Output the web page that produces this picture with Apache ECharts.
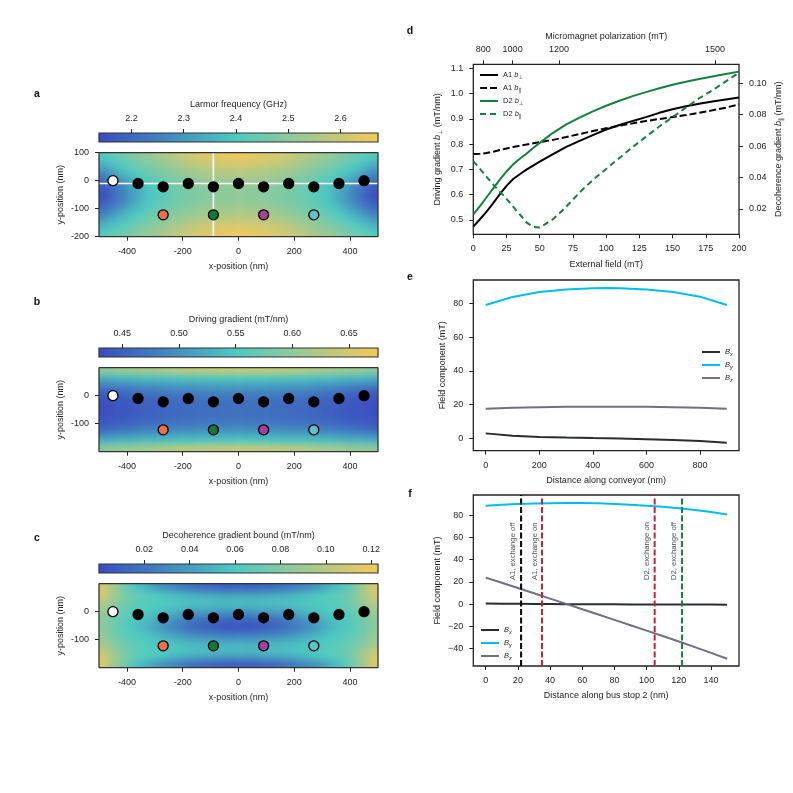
<!DOCTYPE html>
<html>
<head>
<meta charset="utf-8">
<style>
  html, body { margin: 0; padding: 0; background: #fff; }
  #page { position: relative; width: 793px; height: 793px; overflow: hidden; }
  #main, #heat { position: absolute; left: 0; top: 0; width: 793px; height: 793px; }
  /* the coarse cells are softened and kept inside the three plot rectangles */
  #heatClip { position: absolute; left: 0; top: 0; width: 793px; height: 793px;
    clip-path: path('M99 152.7h279v84h-279z M99 367.7h279v84h-279z M99 583.7h279v84h-279z'); }
  #heat { filter: blur(3px); }
</style>
<script src="https://cdn.jsdelivr.net/npm/echarts@6/dist/echarts.min.js"></script>
</head>
<body>
<div id="page">
  <div id="heatClip"><div id="heat"></div></div>
  <div id="main"></div>
</div>
<script>
// heat map cell centres (nm)
const heatX = [-483,-450,-417,-383,-350,-317,-283,-250,-217,-183,-150,-117,-83,-50,-17,17,50,83,117,150,183,217,250,283,317,350,383,417,450,483];
const heatY = [87.5,62.5,37.5,12.5,-12.5,-37.5,-62.5,-87.5,-112.5,-137.5,-162.5,-187.5];

const larmorRows = [
  [2.41,2.43,2.45,2.48,2.50,2.52,2.54,2.56,2.58,2.60,2.62,2.63,2.64,2.65,2.66,2.66,2.65,2.64,2.63,2.62,2.60,2.58,2.56,2.54,2.52,2.50,2.48,2.45,2.43,2.41],
  [2.36,2.39,2.42,2.45,2.47,2.49,2.51,2.53,2.55,2.57,2.59,2.60,2.61,2.62,2.62,2.62,2.62,2.61,2.60,2.59,2.57,2.55,2.53,2.51,2.49,2.47,2.45,2.42,2.39,2.36],
  [2.30,2.34,2.38,2.41,2.44,2.46,2.48,2.50,2.52,2.54,2.55,2.56,2.57,2.58,2.58,2.58,2.58,2.57,2.56,2.55,2.54,2.52,2.50,2.48,2.46,2.44,2.41,2.38,2.34,2.30],
  [2.24,2.28,2.33,2.37,2.40,2.43,2.45,2.47,2.49,2.50,2.52,2.53,2.54,2.54,2.55,2.55,2.54,2.54,2.53,2.52,2.50,2.49,2.47,2.45,2.43,2.40,2.37,2.33,2.28,2.24],
  [2.19,2.23,2.28,2.33,2.37,2.40,2.43,2.45,2.47,2.48,2.50,2.51,2.52,2.52,2.52,2.52,2.52,2.52,2.51,2.50,2.48,2.47,2.45,2.43,2.40,2.37,2.33,2.28,2.23,2.19],
  [2.15,2.20,2.25,2.31,2.35,2.39,2.42,2.44,2.46,2.47,2.48,2.49,2.50,2.50,2.51,2.51,2.50,2.50,2.49,2.48,2.47,2.46,2.44,2.42,2.39,2.35,2.31,2.25,2.20,2.15],
  [2.15,2.20,2.25,2.31,2.35,2.39,2.42,2.44,2.46,2.47,2.48,2.49,2.50,2.50,2.51,2.51,2.50,2.50,2.49,2.48,2.47,2.46,2.44,2.42,2.39,2.35,2.31,2.25,2.20,2.15],
  [2.19,2.23,2.28,2.33,2.37,2.40,2.43,2.45,2.47,2.48,2.50,2.51,2.52,2.52,2.52,2.52,2.52,2.52,2.51,2.50,2.48,2.47,2.45,2.43,2.40,2.37,2.33,2.28,2.23,2.19],
  [2.24,2.28,2.33,2.37,2.40,2.43,2.45,2.47,2.49,2.50,2.52,2.53,2.54,2.54,2.55,2.55,2.54,2.54,2.53,2.52,2.50,2.49,2.47,2.45,2.43,2.40,2.37,2.33,2.28,2.24],
  [2.30,2.34,2.38,2.41,2.44,2.46,2.48,2.50,2.52,2.54,2.55,2.56,2.57,2.58,2.58,2.58,2.58,2.57,2.56,2.55,2.54,2.52,2.50,2.48,2.46,2.44,2.41,2.38,2.34,2.30],
  [2.36,2.39,2.42,2.45,2.47,2.49,2.51,2.53,2.55,2.57,2.59,2.60,2.61,2.62,2.62,2.62,2.62,2.61,2.60,2.59,2.57,2.55,2.53,2.51,2.49,2.47,2.45,2.42,2.39,2.36],
  [2.41,2.43,2.45,2.48,2.50,2.52,2.54,2.56,2.58,2.60,2.62,2.63,2.64,2.65,2.66,2.66,2.65,2.64,2.63,2.62,2.60,2.58,2.56,2.54,2.52,2.50,2.48,2.45,2.43,2.41]
];
const drivingRows = [
  [.600,.603,.607,.610,.614,.618,.622,.626,.629,.632,.634,.636,.638,.640,.640,.640,.640,.638,.636,.634,.632,.629,.626,.622,.618,.614,.610,.607,.603,.600],
  [.530,.532,.535,.538,.540,.542,.544,.546,.547,.548,.549,.550,.551,.552,.552,.552,.552,.551,.550,.549,.548,.547,.546,.544,.542,.540,.538,.535,.532,.530],
  [.484,.488,.492,.496,.499,.502,.505,.507,.509,.511,.512,.513,.514,.515,.515,.515,.515,.514,.513,.512,.511,.509,.507,.505,.502,.499,.496,.492,.488,.484],
  [.449,.454,.459,.464,.468,.472,.475,.478,.480,.482,.484,.485,.486,.487,.487,.487,.487,.486,.485,.484,.482,.480,.478,.475,.472,.468,.464,.459,.454,.449],
  [.436,.440,.444,.448,.452,.455,.458,.461,.463,.465,.467,.468,.469,.470,.470,.470,.470,.469,.468,.467,.465,.463,.461,.458,.455,.452,.448,.444,.440,.436],
  [.432,.435,.439,.443,.447,.450,.453,.456,.458,.460,.462,.463,.464,.465,.465,.465,.465,.464,.463,.462,.460,.458,.456,.453,.450,.447,.443,.439,.435,.432],
  [.432,.435,.439,.443,.447,.450,.453,.456,.458,.460,.462,.463,.464,.465,.465,.465,.465,.464,.463,.462,.460,.458,.456,.453,.450,.447,.443,.439,.435,.432],
  [.436,.440,.444,.448,.452,.455,.458,.461,.463,.465,.467,.468,.469,.470,.470,.470,.470,.469,.468,.467,.465,.463,.461,.458,.455,.452,.448,.444,.440,.436],
  [.449,.454,.459,.464,.468,.472,.475,.478,.480,.482,.484,.485,.486,.487,.487,.487,.487,.486,.485,.484,.482,.480,.478,.475,.472,.468,.464,.459,.454,.449],
  [.484,.488,.492,.496,.499,.502,.505,.507,.509,.511,.512,.513,.514,.515,.515,.515,.515,.514,.513,.512,.511,.509,.507,.505,.502,.499,.496,.492,.488,.484],
  [.530,.532,.535,.538,.540,.542,.544,.546,.547,.548,.549,.550,.551,.552,.552,.552,.552,.551,.550,.549,.548,.547,.546,.544,.542,.540,.538,.535,.532,.530],
  [.600,.603,.607,.610,.614,.618,.622,.626,.629,.632,.634,.636,.638,.640,.640,.640,.640,.638,.636,.634,.632,.629,.626,.622,.618,.614,.610,.607,.603,.600]
];
const decoherenceRows = [
  [.110,.092,.076,.064,.053,.044,.036,.029,.024,.019,.015,.012,.010,.008,.007,.007,.008,.010,.012,.015,.019,.024,.029,.036,.044,.053,.064,.076,.092,.110],
  [.112,.094,.081,.071,.065,.062,.058,.054,.050,.047,.044,.042,.041,.039,.039,.039,.039,.041,.042,.044,.047,.050,.054,.058,.062,.065,.071,.081,.094,.112],
  [.100,.089,.079,.071,.066,.064,.062,.060,.059,.058,.057,.057,.055,.055,.055,.055,.055,.055,.057,.057,.058,.059,.060,.062,.064,.066,.071,.079,.089,.100],
  [.091,.081,.074,.068,.064,.062,.059,.057,.054,.052,.050,.049,.048,.047,.047,.047,.047,.048,.049,.050,.052,.054,.057,.059,.062,.064,.068,.074,.081,.091],
  [.086,.076,.069,.064,.060,.057,.052,.047,.042,.037,.033,.031,.030,.028,.027,.027,.028,.030,.031,.033,.037,.042,.047,.052,.057,.060,.064,.069,.076,.086],
  [.083,.074,.066,.060,.055,.049,.041,.033,.026,.020,.015,.011,.009,.007,.006,.006,.007,.009,.011,.015,.020,.026,.033,.041,.049,.055,.060,.066,.074,.083],
  [.083,.074,.066,.060,.055,.049,.041,.033,.026,.020,.015,.011,.009,.007,.006,.006,.007,.009,.011,.015,.020,.026,.033,.041,.049,.055,.060,.066,.074,.083],
  [.086,.076,.069,.064,.060,.057,.052,.047,.042,.037,.033,.031,.030,.028,.027,.027,.028,.030,.031,.033,.037,.042,.047,.052,.057,.060,.064,.069,.076,.086],
  [.091,.081,.074,.068,.064,.062,.059,.057,.054,.052,.050,.049,.048,.047,.047,.047,.047,.048,.049,.050,.052,.054,.057,.059,.062,.064,.068,.074,.081,.091],
  [.100,.089,.079,.071,.066,.064,.062,.060,.059,.058,.057,.057,.055,.055,.055,.055,.055,.055,.057,.057,.058,.059,.060,.062,.064,.066,.071,.079,.089,.100],
  [.112,.094,.081,.071,.065,.062,.058,.054,.050,.047,.044,.042,.041,.039,.039,.039,.039,.041,.042,.044,.047,.050,.054,.058,.062,.065,.071,.081,.094,.112],
  [.110,.092,.076,.064,.053,.044,.036,.029,.024,.019,.015,.012,.010,.008,.007,.007,.008,.010,.012,.015,.019,.024,.029,.036,.044,.053,.064,.076,.092,.110]
];

// quantum dots
const conveyorX = [-450,-360,-270,-180,-90,0,90,180,270,360,450];
const conveyorY = [0,-10,-22,-10,-22,-10,-22,-10,-22,-10,0];
const conveyorFill = ['#ffffff','#000','#000','#000','#000','#000','#000','#000','#000','#000','#000'];
const sensorX = [-270,-90,90,270];
const sensorY = [-122,-122,-122,-122];
const sensorFill = ['#ee7048','#14783a','#a8409a','#62c0c8'];

// panel d
const fieldMt = [0,5,10,15,20,25,30,35,40,45,50,60,70,80,90,100,110,120,130,140,150,160,170,180,190,200];
const a1Perp = [.474,.503,.533,.567,.602,.635,.662,.681,.699,.715,.731,.761,.789,.813,.836,.858,.876,.892,.907,.924,.938,.950,.960,.969,.977,.985];
const a1Par = [.055,.0552,.0556,.0565,.0575,.0585,.0595,.0603,.061,.0618,.0625,.064,.0658,.0677,.0696,.0714,.073,.0745,.076,.0773,.0785,.0798,.0812,.0828,.0845,.0866];
const d2Perp = [.522,.555,.59,.625,.66,.692,.72,.742,.762,.785,.805,.845,.878,.905,.93,.952,.972,.99,1.006,1.021,1.035,1.047,1.058,1.068,1.078,1.087];
const d2Par = [.0505,.0455,.0405,.0355,.031,.0265,.0215,.0165,.0115,.0086,.0082,.0135,.0215,.0305,.0385,.0455,.0525,.0595,.066,.0725,.0785,.0845,.0905,.0955,.1012,.1068];
const polarizationTicks = [800,1000,1200,1500];
const polarizationAt = [7.5,29.6,64.5,182]; // non linear top axis, in mT of the bottom axis

// panel e
const conveyorDist = [0,100,200,300,400,450,500,600,700,800,900];
const conveyorBx = [2.9,1.5,.8,.4,.1,0,-.2,-.6,-1,-1.7,-2.7];
const conveyorBy = [79.2,84,87,88.5,89.2,89.3,89.2,88.5,87,84.2,79.2];
const conveyorBz = [17.6,18.2,18.5,18.7,18.8,18.8,18.8,18.7,18.5,18.2,17.6];

// panel f
const busDist = [0,10,20,30,40,50,60,70,80,90,100,110,120,130,140,150];
const busBx = [.5,.4,.3,.2,.1,0,0,-.1,-.1,-.2,-.2,-.3,-.3,-.4,-.4,-.5];
const busBy = [88.3,89.2,89.9,90.4,90.7,90.8,90.8,90.5,90,89.3,88.4,87.4,86.1,84.6,82.8,80.4];
const busBz = [23.8,19.2,14.5,9.8,5,.3,-4.5,-9.3,-14.1,-18.9,-23.7,-28.6,-33.5,-38.6,-43.7,-49];
const exchangeX = [22,35,105,122];
const exchangeNames = ['A1, exchange off','A1, exchange on','D2, exchange on','D2, exchange off'];
const exchangeColors = ['#000','#c9203a','#c9203a','#15803d'];
const exchangeLabelX = [17,30.3,100,117];

const FONT = '"Liberation Sans", "DejaVu Sans", sans-serif';
const INK = '#222';
const GREEN = '#15803d';
const cmap = ['#3a4cc0','#4289bf','#4ecbc0','#a3c98d','#f6c85a'];
const BX = '#2a2c33', BY = '#00bdf2', BZ = '#70717f';

const grids = [], xAxes = [], yAxes = [], series = [], legends = [];
const heatGrids = [], heatXAxes = [], heatYAxes = [], heatSeries = [], heatMaps = [];

const rich = {
  i: { fontFamily: FONT, fontSize: 9, fontStyle: 'italic', color: INK },
  s: { fontFamily: FONT, fontSize: 6, color: INK, padding: [5, 0, 0, 0] },
  t: { fontFamily: FONT, fontSize: 9, color: INK },
  li: { fontFamily: FONT, fontSize: 7.5, fontStyle: 'italic', color: INK },
  ls: { fontFamily: FONT, fontSize: 5.5, color: INK, fontStyle: 'italic', padding: [4, 0, 0, 0] },
  lt: { fontFamily: FONT, fontSize: 7.5, color: INK }
};

function valueAxis(o) {
  return {
    type: 'value', gridIndex: o.grid, min: o.min, max: o.max, position: o.position,
    splitLine: { show: false },
    name: o.name, nameLocation: 'middle', nameGap: o.gap, nameRotate: o.rotate,
    nameTextStyle: { fontFamily: FONT, fontSize: 9, color: INK, rich: rich },
    axisLine: { show: false, onZero: false },
    axisTick: { show: true, length: 4, inside: false, lineStyle: { color: INK, width: 1 }, customValues: o.ticks },
    axisLabel: {
      show: true, margin: 10, fontFamily: FONT, fontSize: 9, color: INK,
      customValues: o.ticks, formatter: o.fmt
    }
  };
}

function addGrid(left, top, w, h, extra) {
  grids.push(Object.assign({ left: left, top: top, width: w, height: h, containLabel: false }, extra));
  return grids.length - 1;
}

const padEdges = r => [r[0], ...r, r[r.length - 1]];

function mapPanel(p) {
  // heat map goes in its own chart under the main one, one repeated cell past each edge for the blur
  const rows = padEdges(p.rows.map(padEdges));
  const k = heatGrids.length;
  heatGrids.push({ left: 99 - 9.3, top: p.top - 7, width: 279 + 18.6, height: 84 + 14 });
  heatXAxes.push({ type: 'category', gridIndex: k, data: padEdges(heatX), show: false });
  heatYAxes.push({ type: 'category', gridIndex: k, data: padEdges(heatY), show: false, inverse: true });
  const cells = [];
  rows.forEach((row, j) => row.forEach((v, i) => cells.push([i, j, v])));
  heatMaps.push({
    show: false, type: 'continuous', min: p.cmin, max: p.cmax, dimension: 2,
    seriesIndex: k, inRange: { color: cmap }
  });
  heatSeries.push({
    type: 'heatmap', xAxisIndex: k, yAxisIndex: k, data: cells, silent: true,
    itemStyle: { borderWidth: 0 }, progressive: 0
  });

  const g = addGrid(99, p.top, 279, 84);
  xAxes.push(valueAxis({
    grid: g, min: -500, max: 500, position: 'bottom', ticks: [-400,-200,0,200,400],
    name: 'x-position (nm)', gap: 25, fmt: v => String(v)
  }));
  yAxes.push(valueAxis({
    grid: g, min: -200, max: 100, position: 'left', ticks: p.yTicks,
    name: 'y-position (nm)', gap: 34, fmt: v => String(v)
  }));
  const on = { xAxisIndex: xAxes.length - 1, yAxisIndex: yAxes.length - 1 };
  (p.guides || []).forEach(seg => series.push(Object.assign({
    type: 'line', data: seg, symbol: 'none', silent: true,
    lineStyle: { color: '#fff', width: 1.6 }, z: 3
  }, on)));
  series.push(Object.assign({
    type: 'line', data: [[-500,-200],[500,-200],[500,100],[-500,100],[-500,-200]], symbol: 'none',
    silent: true, clip: false, lineStyle: { color: '#333', width: 1.3 }, z: 4
  }, on));
  const dots = conveyorX.map((x, i) => ({ value: [x, conveyorY[i]], itemStyle: { color: conveyorFill[i] } }))
    .concat(sensorX.map((x, i) => ({ value: [x, sensorY[i]], itemStyle: { color: sensorFill[i] } })));
  series.push(Object.assign({
    type: 'scatter', data: dots, symbolSize: 10, silent: true, z: 5,
    itemStyle: { borderColor: '#000', borderWidth: 1.3, opacity: 1 }
  }, on));

  // colour bar
  const cb = addGrid(99, p.barTop, 279, 9, {
    show: true, borderColor: '#333', borderWidth: 1.2,
    backgroundColor: new echarts.graphic.LinearGradient(0, 0, 1, 0,
      cmap.map((c, i) => ({ offset: i / (cmap.length - 1), color: c })))
  });
  xAxes.push(valueAxis({
    grid: cb, min: p.cmin, max: p.cmax, position: 'top', ticks: p.cticks,
    name: p.title, gap: 24, fmt: v => v.toFixed(p.digits)
  }));
  yAxes.push({ type: 'value', gridIndex: cb, show: false, min: 0, max: 1 });
}

mapPanel({
  top: 152.7, barTop: 133, rows: larmorRows, cmin: 2.138, cmax: 2.672, cticks: [2.2,2.3,2.4,2.5,2.6], digits: 1,
  title: 'Larmor frequency (GHz)', yTicks: [-200,-100,0,100],
  guides: [[[-500,-10],[500,-10]], [[-90,-200],[-90,100]]]
});
mapPanel({
  top: 367.7, barTop: 348, rows: drivingRows, cmin: .4294, cmax: .6756, cticks: [.45,.5,.55,.6,.65], digits: 2,
  title: 'Driving gradient (mT/nm)', yTicks: [-100,0]
});
mapPanel({
  top: 583.7, barTop: 564, rows: decoherenceRows, cmin: 0, cmax: .123, cticks: [.02,.04,.06,.08,.1,.12], digits: 2,
  title: 'Decoherence gradient bound (mT/nm)', yTicks: [-100,0]
});

const frame = { show: true, borderColor: '#222', borderWidth: 1.3, backgroundColor: 'transparent' };

// panel d
const gd = addGrid(473.3, 64.3, 265.7, 170, frame);
xAxes.push(valueAxis({ grid: gd, min: 0, max: 200, position: 'bottom', ticks: [0,25,50,75,100,125,150,175,200], name: 'External field (mT)', gap: 26, fmt: v => String(v) }));
const dBottom = xAxes.length - 1;
xAxes.push(valueAxis({
  grid: gd, min: 0, max: 200, position: 'top', ticks: polarizationAt, name: 'Micromagnet polarization (mT)', gap: 23,
  fmt: v => String(polarizationTicks[polarizationAt.indexOf(v)])
}));
yAxes.push(valueAxis({ grid: gd, min: .4434, max: 1.116, position: 'left', ticks: [.5,.6,.7,.8,.9,1,1.1], name: 'Driving gradient {i|b}{s|⊥} (mT/nm)', gap: 30, fmt: v => v.toFixed(1) }));
const dLeft = yAxes.length - 1;
yAxes.push(valueAxis({ grid: gd, min: .0039, max: .1121, position: 'right', ticks: [.02,.04,.06,.08,.1], name: 'Decoherence gradient {i|b}{s|∥} (mT/nm)', gap: 34, rotate: 90, fmt: v => v.toFixed(2) }));
const dRight = dLeft + 1;

function curve(name, xs, ys, xi, yi, color, dash, width) {
  series.push({
    type: 'line', name: name, xAxisIndex: xi, yAxisIndex: yi, data: xs.map((x, i) => [x, ys[i]]),
    symbol: 'none', silent: true, lineStyle: { color: color, width: width || 2, type: dash || 'solid' },
    itemStyle: { color: color }
  });
}
curve('A1 perp', fieldMt, a1Perp, dBottom, dLeft, '#000');
curve('A1 par', fieldMt, a1Par, dBottom, dRight, '#000', [7, 3]);
curve('D2 perp', fieldMt, d2Perp, dBottom, dLeft, GREEN);
curve('D2 par', fieldMt, d2Par, dBottom, dRight, GREEN, [6, 4]);

const dLegendText = { 'A1 perp': '{lt|A1 }{li|b}{ls|⊥}', 'A1 par': '{lt|A1 }{li|b}{ls|∥}', 'D2 perp': '{lt|D2 }{li|b}{ls|⊥}', 'D2 par': '{lt|D2 }{li|b}{ls|∥}' };
function legendOf(names, left, top, fmt) {
  legends.push({
    data: names, left: left, top: top, orient: 'vertical', selectedMode: false,
    itemWidth: 18, itemHeight: 8, itemGap: 4, padding: 0, itemStyle: { opacity: 0 },
    textStyle: { rich: rich, fontSize: 7.5, fontFamily: FONT, color: INK }, formatter: fmt
  });
}
legendOf(['A1 perp','A1 par','D2 perp','D2 par'], 479, 71, n => dLegendText[n]);

// panel e
const ge = addGrid(473.3, 280, 265.7, 170.7, frame);
xAxes.push(valueAxis({ grid: ge, min: -46.3, max: 945.5, position: 'bottom', ticks: [0,200,400,600,800], name: 'Distance along conveyor (nm)', gap: 25, fmt: v => String(v) }));
yAxes.push(valueAxis({ grid: ge, min: -7.4, max: 94.1, position: 'left', ticks: [0,20,40,60,80], name: 'Field component (mT)', gap: 26, fmt: v => String(v) }));
let xi = xAxes.length - 1, yi = yAxes.length - 1;
curve('Bx', conveyorDist, conveyorBx, xi, yi, BX);
curve('By', conveyorDist, conveyorBy, xi, yi, BY);
curve('Bz', conveyorDist, conveyorBz, xi, yi, BZ);

const bLegendText = { Bx: '{li|B}{ls|x}', By: '{li|B}{ls|y}', Bz: '{li|B}{ls|z}' };
legendOf(['Bx','By','Bz'], 701, 348, n => bLegendText[n]);

// panel f
const gf = addGrid(473.3, 495, 265.7, 171, frame);
xAxes.push(valueAxis({ grid: gf, min: -7.7, max: 157.4, position: 'bottom', ticks: [0,20,40,60,80,100,120,140], name: 'Distance along bus stop 2 (nm)', gap: 25, fmt: v => String(v) }));
yAxes.push(valueAxis({ grid: gf, min: -55.5, max: 98, position: 'left', ticks: [-40,-20,0,20,40,60,80], name: 'Field component (mT)', gap: 31, fmt: v => String(v).replace('-', '\u2212') }));
xi = xAxes.length - 1; yi = yAxes.length - 1;
curve('Bx', busDist, busBx, xi, yi, BX);
curve('By', busDist, busBy, xi, yi, BY);
curve('Bz', busDist, busBz, xi, yi, BZ);
exchangeX.forEach((x, i) => {
  series.push({
    type: 'line', xAxisIndex: xi, yAxisIndex: yi, data: [[x, -55.5], [x, 98]], symbol: 'none', silent: true,
    lineStyle: { color: exchangeColors[i], width: 2, type: [6, 2.5] }, z: 3
  });
  series.push({
    type: 'scatter', xAxisIndex: xi, yAxisIndex: yi, data: [[exchangeLabelX[i], 21.6]], symbolSize: 1, silent: true,
    itemStyle: { color: 'transparent' }, z: 6,
    label: {
      show: true, formatter: exchangeNames[i], position: 'inside', rotate: 90, align: 'left', verticalAlign: 'middle',
      fontFamily: FONT, fontSize: 7.7, color: INK
    }
  });
});
legendOf(['Bx','By','Bz'], 480, 626, n => bLegendText[n]);

const letters = [['a',37,94],['b',37,302],['c',37,538],['d',410,31],['e',410,277],['f',410,494]];

const heatChart = echarts.init(document.getElementById('heat'), null, { renderer: 'canvas' });
heatChart.setOption({
  animation: false, grid: heatGrids, xAxis: heatXAxes, yAxis: heatYAxes,
  visualMap: heatMaps, series: heatSeries
});

const chart = echarts.init(document.getElementById('main'), null, { renderer: 'canvas' });
chart.setOption({
  backgroundColor: 'transparent',
  animation: false,
  grid: grids, xAxis: xAxes, yAxis: yAxes,
  legend: legends,
  series: series,
  graphic: letters.map(l => ({
    type: 'text', x: l[1], y: l[2], style: { text: l[0], fontFamily: FONT, fontSize: 10.5, fontWeight: 'bold', fill: '#111', verticalAlign: 'middle', align: 'center' }
  }))
});
</script>
</body>
</html>
